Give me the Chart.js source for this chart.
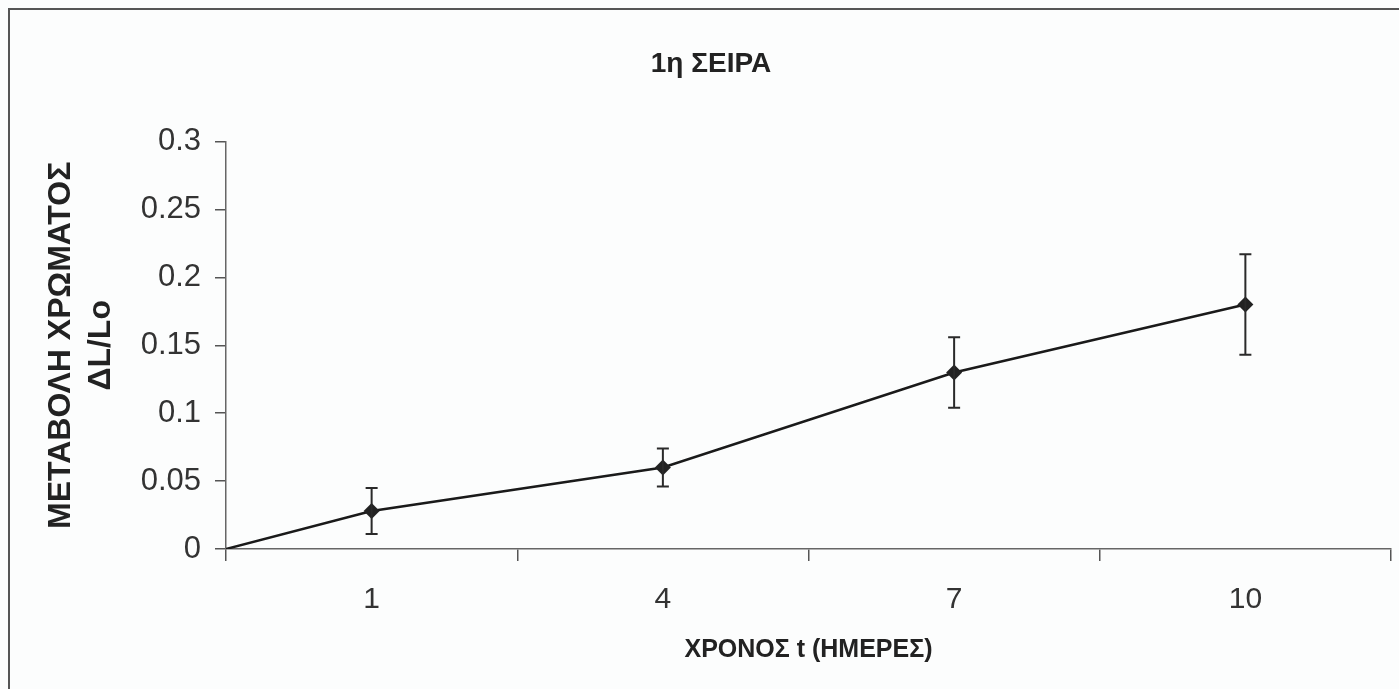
<!DOCTYPE html>
<html>
<head>
<meta charset="utf-8">
<script src="https://cdn.jsdelivr.net/npm/chart.js@4.4.1/dist/chart.umd.min.js"></script>
<style>
  html, body { margin: 0; padding: 0; background: #fcfdfd; overflow: hidden; }
  #wrap { position: relative; width: 1399px; height: 689px; }
</style>
</head>
<body>
<div id="wrap"><canvas id="series-chart"></canvas></div>
<script>
// ===== 1η ΣΕΙΡΑ — μεταβολή χρώματος ΔL/Lo =====
const days = ['1', '4', '7', '10'];
const startValue = 0;
const colourChange = [0.028, 0.060, 0.130, 0.180];
const errors = [0.017, 0.014, 0.026, 0.037];

const titleText = '1η ΣΕΙΡΑ';
const yTitle = ['ΜΕΤΑΒΟΛΗ ΧΡΩΜΑΤΟΣ', 'ΔL/Lo'];
const xTitle = 'ΧΡΟΝΟΣ t (ΗΜΕΡΕΣ)';

// first point sits on the axis origin, the others in the middle of each day slot
const points = [{ x: 0, y: startValue }].concat(
  days.map((d, i) => ({ x: i + 0.5, y: colourChange[i], err: errors[i] }))
);

const frame = {
  id: 'frame',
  beforeDraw(chart) {
    const { ctx } = chart;
    ctx.save();
    ctx.strokeStyle = '#555';
    ctx.lineWidth = 2;
    ctx.strokeRect(9, 9, 1600, 900);
    ctx.restore();
  }
};

const errorBars = {
  id: 'errorBars',
  afterDatasetsDraw(chart) {
    const { ctx, scales: { x, y } } = chart;
    ctx.save();
    ctx.strokeStyle = '#2a2a2a';
    ctx.lineWidth = 2;
    points.forEach(p => {
      if (!p.err) return;
      const px = x.getPixelForValue(p.x);
      const top = y.getPixelForValue(p.y + p.err);
      const bot = y.getPixelForValue(p.y - p.err);
      ctx.beginPath();
      ctx.moveTo(px, top); ctx.lineTo(px, bot);
      ctx.moveTo(px - 6, top); ctx.lineTo(px + 6, top);
      ctx.moveTo(px - 6, bot); ctx.lineTo(px + 6, bot);
      ctx.stroke();
    });
    ctx.restore();
  }
};

const ctx = document.getElementById('series-chart').getContext('2d');
new Chart(ctx, {
  type: 'line',
  data: {
    datasets: [{
      data: points,
      borderColor: '#1a1a1a',
      borderWidth: 2.5,
      backgroundColor: '#222',
      pointStyle: 'rectRot',
      pointRadius: c => (c.dataIndex === 0 ? 0 : 8),
      pointBorderWidth: 0,
      tension: 0
    }]
  },
  options: {
    responsive: true,
    maintainAspectRatio: false,
    animation: false,
    events: [],
    layout: { padding: { left: 30, right: 7, top: 0, bottom: 0 } },
    plugins: {
      legend: { display: false },
      tooltip: { enabled: false },
      title: {
        display: true,
        text: titleText,
        color: '#222',
        font: { family: 'Liberation Sans, Arial, sans-serif', size: 28, weight: 'bold', lineHeight: 1.2 },
        padding: { top: 47, bottom: 61 }
      }
    },
    scales: {
      x: {
        type: 'linear',
        min: 0,
        max: days.length,
        afterBuildTicks: s => {
          const t = [];
          for (let i = 0; i <= days.length * 2; i++) t.push({ value: i / 2 });
          s.ticks = t;
        },
        afterFit: s => { s.height = 140; s.paddingLeft = 0; s.paddingRight = 0; },
        ticks: {
          autoSkip: false,
          maxRotation: 0,
          padding: 21,
          color: '#333',
          font: { family: 'Liberation Sans, Arial, sans-serif', size: 30 },
          callback: v => (Number.isInteger(v) ? '' : days[Math.floor(v)])
        },
        grid: {
          drawOnChartArea: false,
          tickLength: 12,
          lineWidth: 1.5,
          color: c => (Number.isInteger(c.tick.value) ? '#555' : 'rgba(0,0,0,0)')
        },
        border: { display: true, color: '#666', width: 1.5 },
        title: {
          display: true,
          text: xTitle,
          color: '#222',
          font: { family: 'Liberation Sans, Arial, sans-serif', size: 25, weight: 'bold', lineHeight: 1.2 },
          padding: { top: 0, bottom: 24 }
        }
      },
      y: {
        min: 0,
        max: 0.3,
        afterFit: s => { s.width = 196; },
        ticks: {
          stepSize: 0.05,
          padding: 14,
          color: '#333',
          font: { family: 'Liberation Sans, Arial, sans-serif', size: 31 },
          callback: v => String(+v.toFixed(2))
        },
        grid: { drawOnChartArea: false, tickLength: 11, lineWidth: 1.5, color: '#555' },
        border: { display: true, color: '#666', width: 1.5 },
        title: {
          display: true,
          text: yTitle,
          color: '#222',
          font: { family: 'Liberation Sans, Arial, sans-serif', size: 32, weight: 'bold', lineHeight: 1.25 },
          padding: { top: 11, bottom: 0 }
        }
      }
    }
  },
  plugins: [frame, errorBars]
});
</script>
</body>
</html>
